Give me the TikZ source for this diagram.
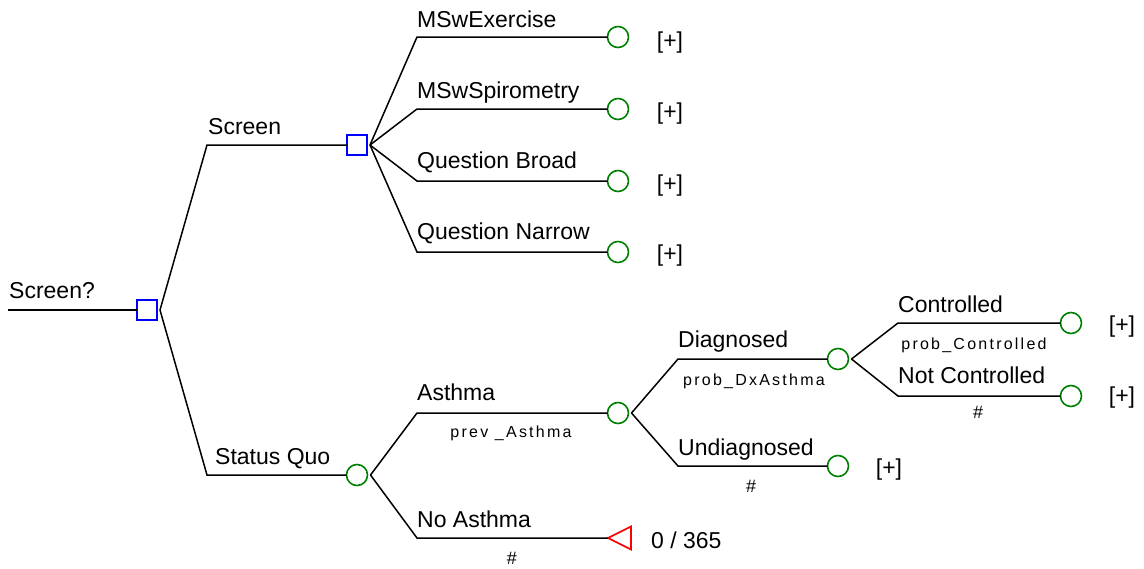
\documentclass[tikz,border=0pt]{standalone}
\usepackage{fontspec}
\setmainfont{Liberation Sans}
\usetikzlibrary{shapes.geometric}
\newcommand{\bigtxt}{\fontsize{23}{27}\selectfont}
\newcommand{\smalltxt}{\fontsize{16}{18}\selectfont\addfontfeature{LetterSpace=14}}
\newcommand{\hashtxt}{\fontsize{18}{20}\selectfont}

\tikzset{
  branch/.style={line width=1.5pt, black},
  decision/.style={rectangle, draw=blue, line width=1.6pt, minimum size=20pt, inner sep=0pt, outer sep=0pt},
  chance/.style={circle, draw=green!50!black, line width=1.6pt, minimum size=21pt, inner sep=0pt, outer sep=0pt},
  terminal/.style={isosceles triangle, isosceles triangle stretches, shape border rotate=180,
    draw=red, line width=1.6pt, minimum width=23pt, minimum height=23pt, inner sep=0pt, outer sep=0pt},
  lbl/.style={anchor=base west, inner sep=0pt, font=\bigtxt},
  prob/.style={inner sep=0pt, font=\smalltxt},
  rest/.style={inner sep=0pt, font=\hashtxt},
  more/.style={inner sep=0pt, font=\bigtxt},
}

\begin{document}
\begin{tikzpicture}[x=1pt,y=-1pt]
\path[use as bounding box, fill=white] (0,0) rectangle (1144,568);

% tree nodes
\node[decision] (root)   at (147,310) {};
\node[decision] (screen) at (357,145) {};
\node[chance]   (status) at (357,475) {};
\node[chance]   (mex)    at (618,37)  {};
\node[chance]   (msp)    at (618,109) {};
\node[chance]   (qbr)    at (618,181) {};
\node[chance]   (qna)    at (618,252) {};
\node[chance]   (asth)   at (618,413) {};
\node[terminal, anchor=apex] (noasth) at (608,538) {};
\node[chance]   (dx)     at (838,359) {};
\node[chance]   (undx)   at (838,466) {};
\node[chance]   (ctrl)   at (1071,323) {};
\node[chance]   (nctrl)  at (1071,396) {};

% branch corners
\coordinate (kRoot)   at (8,310);
\coordinate (kScreen) at (207,145);
\coordinate (kStatus) at (207,475);
\coordinate (kMex)    at (417,37);
\coordinate (kMsp)    at (417,109);
\coordinate (kQbr)    at (417,181);
\coordinate (kQna)    at (417,252);
\coordinate (kAsth)   at (417,413);
\coordinate (kNoAsth) at (417,538);
\coordinate (kDx)     at (678,359);
\coordinate (kUndx)   at (678,466);
\coordinate (kCtrl)   at (898,323);
\coordinate (kNctrl)  at (898,396);

% branches
\draw[branch] (kRoot) -- (root.west);
\draw[branch] ([xshift=3pt]root.east) -- (kScreen) -- (screen.west);
\draw[branch] ([xshift=3pt]root.east) -- (kStatus) -- (status.west);
\draw[branch] ([xshift=3pt]screen.east) -- (kMex) -- (mex.west);
\draw[branch] ([xshift=3pt]screen.east) -- (kMsp) -- (msp.west);
\draw[branch] ([xshift=3pt]screen.east) -- (kQbr) -- (qbr.west);
\draw[branch] ([xshift=3pt]screen.east) -- (kQna) -- (qna.west);
\draw[branch] ([xshift=3pt]status.east) -- (kAsth) -- (asth.west);
\draw[branch] ([xshift=3pt]status.east) -- (kNoAsth) -- (noasth.apex);
\draw[branch] ([xshift=3pt]asth.east) -- (kDx) -- (dx.west);
\draw[branch] ([xshift=3pt]asth.east) -- (kUndx) -- (undx.west);
\draw[branch] ([xshift=3pt]dx.east) -- (kCtrl) -- (ctrl.west);
\draw[branch] ([xshift=3pt]dx.east) -- (kNctrl) -- (nctrl.west);

% branch names
\node[lbl] (tRoot)   at (9,298)   {Screen?};
\node[lbl] (tScreen) at (208,134) {Screen};
\node[lbl] (tStatus) at (215,464) {Status Quo};
\node[lbl] (tMex)    at (417,27)  {MSwExercise};
\node[lbl] (tMsp)    at (417,98)  {MSwSpirometry};
\node[lbl] (tQbr)    at (417,168) {Question Broad};
\node[lbl] (tQna)    at (417,239) {Question Narrow};
\node[lbl] (tAsth)   at (417,400) {Asthma};
\node[lbl] (tNoAsth) at (417,527) {No Asthma};
\node[lbl] (tDx)     at (678,347) {Diagnosed};
\node[lbl] (tUndx)   at (678,455) {Undiagnosed};
\node[lbl] (tCtrl)   at (898,312) {Controlled};
\node[lbl] (tNctrl)  at (898,383) {Not Controlled};

% probabilities
\node[prob] (pAsth)   at (511,433) {prev \_Asthma};
\node[rest] (pNoAsth) at (512,558) {\#};
\node[prob] (pDx)     at (754,381) {prob\_DxAsthma};
\node[rest] (pUndx)   at (751,486) {\#};
\node[prob] (pCtrl)   at (974,345) {prob\_Controlled};
\node[rest] (pNctrl)  at (978,412) {\#};

% collapsed subtrees and payoff
\node[more] (mMex)   at (670,43)  {[+]};
\node[more] (mMsp)   at (670,114) {[+]};
\node[more] (mQbr)   at (670,186) {[+]};
\node[more] (mQna)   at (670,256) {[+]};
\node[more] (mUndx)  at (889,470) {[+]};
\node[more] (mCtrl)  at (1122,327) {[+]};
\node[more] (mNctrl) at (1122,398) {[+]};
\node[lbl]  (vNoAsth) at (651,548) {0 / 365};
\end{tikzpicture}
\end{document}
